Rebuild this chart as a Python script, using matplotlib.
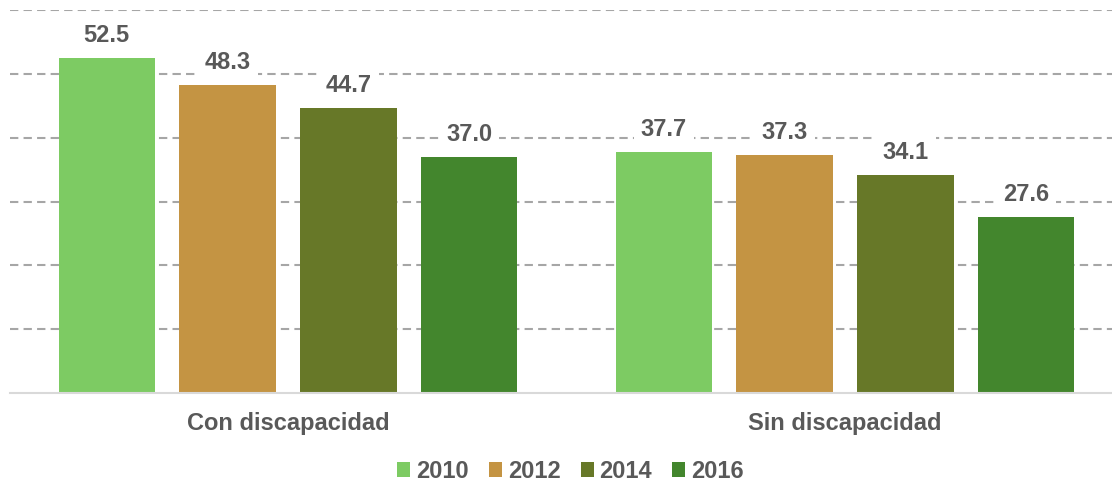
import numpy as np
import matplotlib.pyplot as plt

categories = ["Con discapacidad", "Sin discapacidad"]
years = ["2010", "2012", "2014", "2016"]
v2010 = [52.5, 37.7]
v2012 = [48.3, 37.3]
v2014 = [44.7, 34.1]
v2016 = [37.0, 27.6]
colors = ["#7DCB63", "#C49443", "#677828", "#43862D"]

plt.rcParams['font.family'] = ['Liberation Sans', 'DejaVu Sans']
txt = "#595959"

fig = plt.figure(figsize=(11.12, 4.84), dpi=100)
ax = fig.add_axes([9.5 / 1112, 91 / 484, 1114 / 1112, 383 / 484])

x = np.arange(len(categories))
step = 0.217
width = 0.173
series = [v2010, v2012, v2014, v2016]
for i, (vals, yr, c) in enumerate(zip(series, years, colors)):
    pos = x + (i - 1.5) * step
    bars = ax.bar(pos, vals, width, color=c, label=yr, zorder=3)
    for b, v in zip(bars, vals):
        ax.annotate(f"{v:.1f}", (b.get_x() + b.get_width() / 2, v),
                    xytext=(0, 8), textcoords="offset points",
                    ha="center", va="bottom", fontsize=17, fontweight="bold",
                    color=txt, zorder=4,
                    bbox=dict(boxstyle="square,pad=0.3", fc="white", ec="none"))

ax.set_xlim(-0.5, 1.5)
ax.set_ylim(0, 60)
ax.set_yticks(np.arange(10, 61, 10))
ax.yaxis.grid(True, linestyle=(0, (4, 2.5)), color="#A6A6A6", linewidth=1.5, zorder=0)
ax.tick_params(axis="y", left=False, labelleft=False)
ax.tick_params(axis="x", bottom=False, pad=10)
ax.set_xticks(x)
ax.set_xticklabels(categories, fontsize=17, fontweight="bold", color=txt)
for s in ["top", "right", "left"]:
    ax.spines[s].set_visible(False)
ax.spines["bottom"].set_color("#D9D9D9")
ax.spines["bottom"].set_linewidth(1.5)
ax.spines["bottom"].set_zorder(5)

fig.legend(loc="center", bbox_to_anchor=(0.513, 0.026), ncol=4, frameon=False,
           prop=dict(size=17, weight="bold"), labelcolor=txt,
           handlelength=0.55, handleheight=0.55, handletextpad=0.25, columnspacing=0.85)

fig.savefig("out.png", dpi=100)
